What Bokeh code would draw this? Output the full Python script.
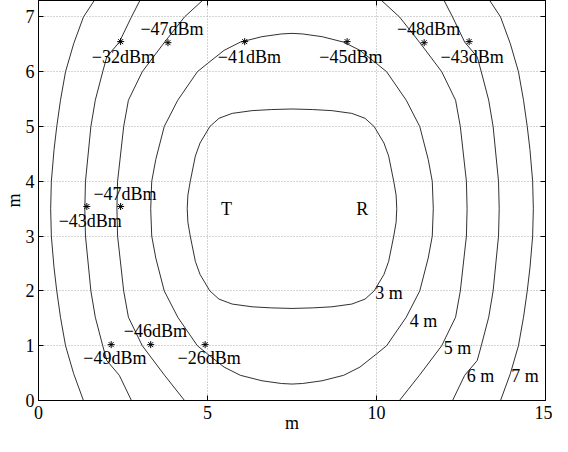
from bokeh.plotting import figure
from bokeh.models import Range1d, FixedTicker, LinearAxis
from bokeh.core.properties import value
from bokeh.embed import file_html
from bokeh.resources import INLINE

# ---- data ----
# contours are symmetric about x = 7.5 and y = 3.5; upper-left quadrant
SYM_X2 = 15.0   # 2 * 7.5
SYM_Y2 = 7.0    # 2 * 3.5

c3_x = [4.40, 4.42, 4.49, 4.64, 4.78, 5.07, 5.34, 5.73, 6.32, 6.90, 7.50]
c3_y = [3.50, 3.75, 4.00, 4.46, 4.70, 5.00, 5.15, 5.24, 5.29, 5.31, 5.32]

c4_x = [3.32, 3.35, 3.47, 3.72, 4.12, 4.70, 5.00, 5.49, 5.97, 6.61, 7.19, 7.50]
c4_y = [3.50, 4.00, 4.40, 5.00, 5.48, 6.00, 6.15, 6.39, 6.54, 6.64, 6.69, 6.70]

c5_x = [2.32, 2.34, 2.52, 2.66, 3.07, 3.73, 4.32, 4.85]
c5_y = [3.50, 4.00, 5.00, 5.48, 6.00, 6.54, 7.00, 7.30]

c6_x = [1.37, 1.39, 1.55, 1.68, 1.90, 2.02, 2.39, 2.75, 3.00]
c6_y = [3.50, 4.00, 5.00, 5.48, 6.00, 6.27, 6.54, 7.00, 7.30]

c7_x = [0.36, 0.38, 0.46, 0.54, 0.65, 0.80, 1.04, 1.33, 1.65]
c7_y = [3.50, 4.00, 4.58, 5.00, 5.48, 6.00, 6.51, 7.00, 7.30]

contour_labels = ["3 m", "4 m", "5 m", "6 m", "7 m"]
contour_label_x = [10.37, 11.39, 12.40, 13.08, 14.39]
contour_label_y = [1.97, 1.46, 0.96, 0.45, 0.45]

meas_x = [2.43, 3.83, 6.10, 9.13, 11.41, 12.74, 1.43, 2.43, 2.15, 3.32, 4.93]
meas_y = [6.55, 6.53, 6.55, 6.55, 6.53, 6.55, 3.54, 3.54, 1.02, 1.02, 1.02]
meas_text = ["\u221232dBm", "\u221247dBm", "\u221241dBm", "\u221245dBm", "\u221248dBm",
             "\u221243dBm", "\u221243dBm", "\u221247dBm", "\u221249dBm", "\u221246dBm",
             "\u221226dBm"]
meas_label_x = [2.51, 3.95, 6.24, 9.24, 11.54, 12.83, 1.53, 2.56, 2.26, 3.46, 5.05]
meas_label_y = [6.26, 6.78, 6.26, 6.26, 6.78, 6.26, 3.28, 3.77, 0.77, 1.26, 0.77]

node_text = ["T", "R"]
node_x = [5.56, 9.58]
node_y = [3.50, 3.50]

x_ticks = [0, 5, 10, 15]
y_ticks = [0, 1, 2, 3, 4, 5, 6, 7]
x_title = "m"
y_title = "m"

# ---- build the four symmetric arcs of each contour ----
xs, ys = [], []
for cx, cy in [(c3_x, c3_y), (c4_x, c4_y), (c5_x, c5_y), (c6_x, c6_y), (c7_x, c7_y)]:
    mx = [SYM_X2 - v for v in cx]
    my = [SYM_Y2 - v for v in cy]
    xs += [cx, mx, cx, mx]
    ys += [cy, cy, my, my]

FONT = value("Liberation Serif")
FS = "18px"

p = figure(width=552, height=436,
           x_range=Range1d(0, 15), y_range=Range1d(0, 7.3),
           output_backend="svg", toolbar_location=None,
           min_border_left=33, min_border_right=7, min_border_top=0, min_border_bottom=36,
           background_fill_color="white", border_fill_color="white")
p.outline_line_color = "black"

for ax in (p.xaxis[0], p.yaxis[0]):
    ax.major_tick_in = 5
    ax.major_tick_out = 0
    ax.minor_tick_line_color = None
    ax.axis_line_color = "black"
    ax.major_tick_line_color = "black"
    ax.major_label_text_font = "Liberation Serif"
    ax.major_label_text_font_size = FS
    ax.major_label_text_color = "black"
    ax.axis_label_text_font = "Liberation Serif"
    ax.axis_label_text_font_size = FS
    ax.axis_label_text_font_style = "normal"
    ax.axis_label_text_color = "black"
p.xaxis[0].ticker = FixedTicker(ticks=x_ticks)
p.yaxis[0].ticker = FixedTicker(ticks=y_ticks)
p.xaxis[0].axis_label = x_title
p.yaxis[0].axis_label = y_title
p.xaxis[0].major_label_standoff = 5
p.xaxis[0].axis_label_standoff = -9
p.yaxis[0].major_label_standoff = 4
p.yaxis[0].axis_label_standoff = -1

for side, tk in (("right", y_ticks), ("above", x_ticks)):
    a = LinearAxis(ticker=FixedTicker(ticks=tk), major_label_text_color=None,
                   major_label_standoff=0, major_tick_in=5, major_tick_out=0,
                   minor_tick_line_color=None, axis_line_color="black",
                   major_tick_line_color="black")
    p.add_layout(a, side)

p.xgrid.ticker = FixedTicker(ticks=x_ticks)
p.ygrid.ticker = FixedTicker(ticks=y_ticks)
for g in (p.xgrid, p.ygrid):
    g.grid_line_color = "#a8a8a8"
    g.grid_line_dash = "1 2"
    g.grid_line_width = 1

p.multi_line(xs, ys, line_color="#1a1a1a", line_width=0.9)

p.scatter(meas_x, meas_y, marker="asterisk", size=7, line_color="black", line_width=1)
p.text(meas_label_x, meas_label_y, text=meas_text, text_font=FONT, text_font_size=FS,
       text_align="center", text_baseline="middle", text_color="black")
p.text(contour_label_x, contour_label_y, text=contour_labels, text_font=FONT, text_font_size=FS,
       text_align="center", text_baseline="middle", text_color="black")
p.text(node_x, node_y, text=node_text, text_font=FONT, text_font_size=FS,
       text_align="center", text_baseline="middle", text_color="black")

open("out.html", "w").write(file_html(p, INLINE))
